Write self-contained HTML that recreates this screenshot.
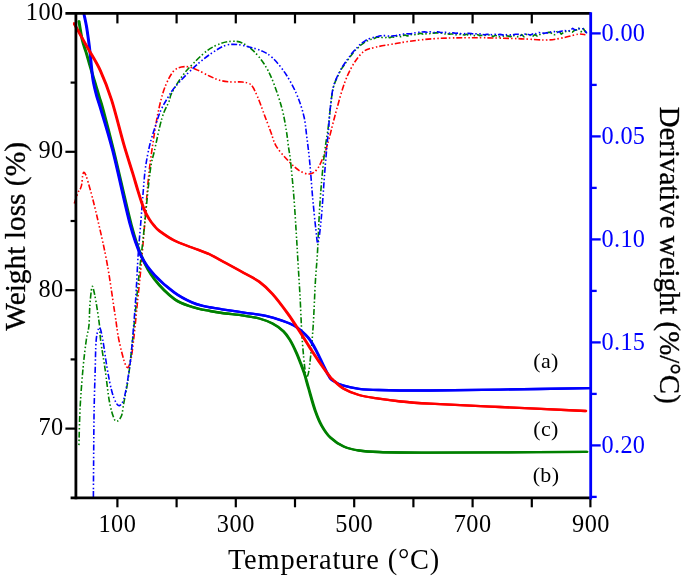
<!DOCTYPE html><html><head><meta charset="utf-8"><title>TGA</title><style>html,body{margin:0;padding:0;background:#fff}svg{display:block}</style></head><body><svg width="685" height="578" viewBox="0 0 685 578">
<rect width="685" height="578" fill="#fff"/>
<defs><clipPath id="c"><rect x="72.9" y="13.4" width="517.8" height="484.4"/></clipPath></defs>
<g fill="none" stroke-linejoin="round" clip-path="url(#c)">
<path d="M74.3 203.5C74.9 201.8 76.8 195.5 77.8 193.0C78.8 190.5 79.8 190.0 80.5 188.5C81.2 187.0 81.5 186.1 81.8 184.0C82.1 181.9 82.3 177.9 82.6 176.0C82.9 174.1 83.3 172.6 83.8 172.3C84.2 172.0 84.8 173.0 85.3 174.0C85.8 175.0 85.8 174.5 87.0 178.5C88.2 182.5 90.6 190.6 92.5 198.0C94.4 205.4 96.0 212.0 98.5 223.0C101.0 234.0 104.5 248.8 107.2 264.0C110.0 279.2 113.0 301.8 115.0 314.5C117.0 327.2 117.1 331.4 118.9 340.0C120.7 348.6 124.1 362.3 126.0 366.0C127.9 369.7 129.0 366.3 130.3 362.0C131.6 357.7 132.3 350.8 133.6 340.0C134.9 329.2 136.7 309.7 138.0 297.0C139.3 284.3 140.2 276.0 141.3 264.0C142.4 252.0 143.3 240.2 144.6 225.0C145.9 209.8 147.3 187.8 149.0 172.5C150.7 157.2 152.8 144.1 154.5 133.0C156.2 121.9 157.7 113.8 159.5 106.0C161.3 98.2 163.0 91.9 165.4 86.0C167.8 80.1 170.9 73.7 174.2 70.5C177.5 67.3 181.4 66.8 185.1 66.6C188.8 66.4 192.1 67.8 196.1 69.4C200.1 71.0 205.3 74.2 209.3 76.0C213.3 77.8 216.6 79.4 220.3 80.4C224.0 81.4 227.7 81.7 231.3 82.0C235.0 82.3 238.9 81.5 242.2 82.0C245.5 82.5 248.4 82.3 251.0 84.8C253.6 87.3 255.4 92.0 257.6 96.9C259.8 101.8 262.0 108.6 264.2 114.4C266.4 120.2 268.8 126.7 270.8 132.0C272.8 137.3 273.4 141.5 276.3 146.3C279.2 151.1 284.5 156.8 288.3 160.8C292.1 164.9 295.8 168.4 299.3 170.6C302.8 172.8 306.3 174.2 309.2 174.0C312.1 173.8 314.5 172.4 316.9 169.5C319.3 166.6 321.7 160.8 323.5 156.4C325.3 152.0 326.0 149.6 327.9 143.0C329.8 136.4 332.1 126.2 334.7 116.7C337.3 107.2 340.6 94.5 343.5 86.0C346.4 77.5 349.0 71.7 352.3 66.0C355.6 60.3 359.6 54.9 363.3 51.8C367.0 48.7 369.6 48.8 374.3 47.5C379.1 46.2 385.9 45.2 391.8 44.2C397.8 43.2 402.8 42.2 410.0 41.3C417.2 40.4 424.5 39.2 435.0 38.6C445.5 38.0 459.4 37.7 473.0 37.7C486.6 37.7 504.6 38.2 516.8 38.6C529.0 39.0 538.2 40.1 546.0 40.0C553.8 39.9 558.2 38.7 563.5 37.7C568.8 36.7 574.4 34.7 578.0 34.2C581.6 33.7 584.2 34.7 585.4 34.8" stroke="#f00" stroke-width="1.6" stroke-dasharray="6 2 1.5 2.5 1.5 2"/>
<path d="M78.9 446.0C79.1 439.3 79.5 418.9 80.2 406.0C80.9 393.1 82.0 379.6 83.0 368.6C84.0 357.6 85.3 347.1 86.3 340.0C87.3 332.9 88.3 331.8 88.9 326.0C89.5 320.2 89.4 311.4 89.9 305.0C90.4 298.6 91.2 290.1 91.8 287.5C92.4 284.9 92.8 286.8 93.5 289.5C94.2 292.2 95.3 297.5 96.3 303.5C97.3 309.5 98.8 319.4 99.5 325.5C100.2 331.6 99.7 332.8 100.6 340.0C101.5 347.2 103.5 358.4 105.0 368.6C106.5 378.9 107.9 393.3 109.4 401.5C110.9 409.7 112.5 414.7 113.8 418.0C115.1 421.3 115.8 421.7 117.1 421.3C118.4 420.9 120.4 418.7 121.5 415.8C122.6 412.9 122.6 409.8 123.7 403.7C124.8 397.6 126.8 388.3 128.1 379.5C129.4 370.7 130.5 359.2 131.4 351.0C132.3 342.8 132.3 342.7 133.6 330.0C134.9 317.3 137.3 290.8 139.0 275.0C140.7 259.2 141.7 252.1 143.5 235.0C145.3 217.9 148.2 186.6 150.0 172.5C151.8 158.4 152.5 159.6 154.5 150.5C156.5 141.4 159.6 126.1 162.0 118.0C164.4 109.9 167.1 106.2 168.8 102.0C170.5 97.8 169.6 97.0 172.0 92.5C174.4 88.0 179.3 80.0 183.0 75.0C186.7 70.0 190.0 66.8 194.0 62.8C198.0 58.8 202.7 53.9 207.1 50.7C211.5 47.5 216.1 45.3 220.3 43.7C224.5 42.1 228.8 41.4 232.4 41.3C236.1 41.2 238.7 41.4 242.2 43.0C245.7 44.6 249.5 47.2 253.2 50.7C256.9 54.2 260.9 58.9 264.2 64.0C267.5 69.1 270.1 74.2 273.0 81.5C275.9 88.8 279.6 99.8 281.8 107.8C284.0 115.8 285.1 123.4 286.2 129.8C287.3 136.2 287.7 141.1 288.4 146.3C289.1 151.5 289.6 152.5 290.5 160.8C291.4 169.1 292.9 184.6 293.8 196.0C294.7 207.4 295.4 219.3 296.0 229.0C296.6 238.7 296.9 243.2 297.5 254.0C298.1 264.8 299.1 280.0 299.9 294.0C300.7 308.0 301.2 324.7 302.1 337.9C303.0 351.1 304.5 366.6 305.4 373.0C306.3 379.4 306.8 377.7 307.5 376.2C308.2 374.7 308.9 372.2 309.8 364.0C310.7 355.8 312.2 340.5 313.1 327.0C314.0 313.5 314.6 295.5 315.3 283.0C316.0 270.5 316.9 262.8 317.5 252.0C318.1 241.2 318.5 229.2 319.1 218.0C319.7 206.8 320.4 196.0 321.3 185.0C322.2 174.0 323.5 161.2 324.6 152.0C325.7 142.8 326.9 137.2 327.9 130.0C328.8 122.8 329.4 115.8 330.3 108.5C331.2 101.2 331.8 93.1 333.6 86.5C335.4 79.9 340.0 71.9 341.3 69.0L341.3 69.1L343.5 66.0L345.7 62.8L347.9 59.8L350.1 56.7L352.3 54.1L354.5 51.0L356.7 48.8L358.9 47.0L361.1 44.8L363.3 43.4L365.5 41.4L367.7 40.7L369.9 39.5L372.1 39.1L374.3 38.5L376.5 37.3L378.7 37.2L380.9 37.2L383.1 38.0L385.3 37.8L387.5 37.0L389.7 37.8L391.9 36.8L394.1 37.2L396.3 36.3L398.5 35.8L400.7 36.7L402.9 35.4L405.1 35.1L407.3 35.9L409.5 35.5L411.7 34.4L413.9 35.1L416.1 34.2L418.3 34.1L420.5 33.2L422.7 34.1L424.9 33.6L427.1 33.9L429.3 33.8L431.5 32.9L433.7 33.1L435.9 32.9L438.1 32.9L440.3 32.9L442.5 33.4L444.7 34.0L446.9 33.2L449.1 34.3L451.3 34.0L453.5 34.0L455.7 34.8L457.9 34.5L460.1 34.3L462.3 34.6L464.5 35.0L466.7 34.2L468.9 35.6L471.1 34.4L473.3 35.5L475.5 35.7L477.7 34.6L479.9 35.8L482.1 35.3L484.3 35.7L486.5 34.8L488.7 34.9L490.9 35.2L493.1 36.6L495.3 35.3L497.5 36.4L499.7 36.8L501.9 36.9L504.1 35.7L506.3 35.7L508.5 36.1L510.7 36.6L512.9 35.1L515.1 36.5L517.3 36.6L519.5 36.7L521.7 34.5L523.9 36.8L526.1 34.4L528.3 34.9L530.5 35.5L532.7 36.3L534.9 34.5L537.1 36.0L539.3 34.7L541.5 33.8L543.7 33.6L545.9 33.0L548.1 32.4L550.3 32.4L552.5 34.0L554.7 34.8L556.9 31.7L559.1 31.0L561.3 34.2L563.5 32.3L565.7 31.5L567.9 30.5L570.1 31.5L572.3 32.1L574.5 30.3L576.7 29.9L578.9 28.2L581.1 31.8L583.3 28.5L585.5 32.2L586.9 33.4" stroke="#008000" stroke-width="1.6" stroke-dasharray="6 2 1.5 2.5 1.5 2" stroke-dashoffset="7"/>
<path d="M93.4 497.0C93.4 491.7 93.5 478.3 93.6 465.0C93.7 451.7 93.8 432.3 94.0 417.0C94.2 401.7 94.7 385.8 95.1 373.0C95.5 360.2 95.5 347.6 96.2 340.0C96.9 332.4 98.4 327.7 99.5 327.7C100.6 327.7 101.5 333.2 102.8 340.0C104.1 346.8 105.7 360.2 107.2 368.6C108.7 377.0 110.1 384.8 111.6 390.5C113.1 396.2 114.7 400.1 116.0 402.6C117.3 405.1 118.4 406.1 119.7 405.5C121.0 404.9 122.5 402.9 123.7 399.3C124.9 395.7 125.9 390.2 127.0 384.0C128.1 377.8 129.4 369.3 130.3 362.0C131.2 354.7 131.6 350.8 132.5 340.0C133.4 329.2 134.9 310.8 135.8 297.0C136.7 283.2 137.2 270.1 138.0 257.4C138.8 244.7 140.0 232.6 140.9 221.0C141.8 209.4 142.7 197.2 143.5 188.0C144.3 178.8 144.6 173.3 145.7 166.0C146.8 158.7 148.2 151.3 150.0 144.0C151.8 136.7 154.9 127.7 156.7 122.0C158.5 116.3 159.3 113.8 161.0 110.0C162.7 106.2 164.8 102.7 167.0 99.0C169.2 95.3 170.8 92.2 174.2 88.0C177.6 83.8 182.9 78.2 187.3 73.8C191.7 69.4 196.1 65.4 200.5 61.7C204.9 58.0 209.5 54.5 213.7 51.8C217.9 49.1 221.8 46.5 225.8 45.3C229.8 44.1 233.7 44.2 237.9 44.6C242.1 45.0 247.0 46.4 251.0 47.5C255.0 48.6 258.3 49.2 262.0 51.0C265.7 52.8 269.1 54.4 273.2 58.4C277.3 62.4 282.4 68.8 286.4 75.0C290.4 81.2 294.4 88.8 297.3 95.8C300.2 102.8 302.4 109.8 304.0 116.7C305.6 123.6 305.8 129.3 306.8 137.0C307.8 144.7 308.9 153.2 309.8 163.0C310.8 172.8 311.5 185.0 312.5 196.0C313.5 207.0 314.9 221.2 315.8 229.0C316.7 236.8 317.1 244.8 318.0 243.0C318.9 241.2 320.2 229.5 321.3 218.0C322.4 206.5 323.7 185.7 324.6 174.0C325.5 162.3 326.2 154.9 326.8 147.6C327.4 140.3 327.9 136.6 328.5 130.0C329.1 123.4 329.4 115.2 330.3 107.9C331.2 100.6 331.8 92.5 333.6 85.9C335.4 79.3 340.0 71.2 341.3 68.3L341.3 68.3L343.9 64.5L346.5 60.7L349.1 57.2L351.7 53.6L354.3 50.6L356.9 47.9L359.5 44.9L362.1 42.9L364.7 41.2L367.3 39.4L369.9 38.4L372.5 37.7L375.1 36.8L377.7 36.5L380.3 35.7L382.9 35.7L385.5 35.6L388.1 36.0L390.7 36.3L393.3 35.7L395.9 35.6L398.5 34.9L401.1 34.9L403.7 34.0L406.3 33.8L408.9 33.9L411.5 33.6L414.1 33.1L416.7 32.4L419.3 32.3L421.9 32.0L424.5 31.9L427.1 32.3L429.7 31.7L432.3 32.4L434.9 32.5L437.5 31.9L440.1 32.3L442.7 32.6L445.3 32.3L447.9 32.8L450.5 33.4L453.1 32.8L455.7 33.4L458.3 33.1L460.9 33.6L463.5 34.0L466.1 33.4L468.7 33.4L471.3 33.5L473.9 34.1L476.5 33.7L479.1 33.8L481.7 34.3L484.3 34.8L486.9 34.4L489.5 34.4L492.1 34.8L494.7 34.2L497.3 34.8L499.9 34.4L502.5 34.9L505.1 35.4L507.7 34.2L510.3 34.9L512.9 34.9L515.5 34.2L518.1 34.3L520.7 35.3L523.3 35.3L525.9 33.6L528.5 34.5L531.1 34.8L533.7 33.3L536.3 33.8L538.9 32.5L541.5 32.9L544.1 33.3L546.7 32.9L549.3 33.0L551.9 31.3L554.5 31.6L557.1 32.5L559.7 31.6L562.3 31.0L564.9 30.5L567.5 31.6L570.1 30.2L572.7 28.4L575.3 30.1L577.9 28.6L580.5 28.8L583.1 28.7L585.7 31.5L586.9 33.4" stroke="#00f" stroke-width="1.6" stroke-dasharray="6 2 1.5 2.5 1.5 2"/>
<g stroke="#008000" stroke-width="2.3" stroke-linecap="round"><path d="M79.0 21.4C79.5 24.5 81.1 34.9 82.3 40.0C83.5 45.1 84.8 48.1 86.0 52.0C87.2 55.9 88.2 59.7 89.3 63.5C90.4 67.3 91.6 71.2 92.7 75.0C93.8 78.8 94.9 82.3 96.0 86.0C97.1 89.7 98.1 93.0 99.3 97.0C100.5 101.0 100.8 101.1 103.2 110.0C105.6 118.9 108.9 131.3 113.6 150.5C118.3 169.7 126.7 207.4 131.3 225.0C136.0 242.6 137.6 247.2 141.5 256.3C145.4 265.4 149.0 272.2 154.5 279.3C160.0 286.4 168.1 294.4 174.3 299.0C180.5 303.6 186.0 304.8 191.9 306.8C197.8 308.8 205.0 310.0 210.0 311.0C215.0 312.0 216.3 312.2 222.0 313.0C227.7 313.8 237.7 314.8 243.9 315.7C250.1 316.6 254.5 317.2 259.3 318.5C264.1 319.8 268.5 321.5 272.5 323.6C276.5 325.7 280.6 328.6 283.5 331.3C286.4 334.0 287.8 336.4 290.0 340.0C292.2 343.6 294.8 349.2 296.6 353.2C298.4 357.2 299.7 360.9 301.0 364.2C302.3 367.5 302.9 369.0 304.2 373.0C305.5 377.0 306.8 382.1 308.6 388.3C310.4 394.5 312.9 404.1 315.1 410.3C317.3 416.5 319.1 421.1 321.7 425.7C324.3 430.3 326.8 434.2 330.5 437.7C334.2 441.2 338.9 444.4 343.7 446.5C348.4 448.6 353.1 449.6 359.0 450.5C364.9 451.4 367.0 451.6 378.8 452.0C390.6 452.4 409.8 452.6 430.0 452.7C450.2 452.8 473.8 452.5 500.0 452.4C526.2 452.2 572.5 451.9 587.0 451.8" transform="translate(-0.35 0)"/><path d="M79.0 21.4C79.5 24.5 81.1 34.9 82.3 40.0C83.5 45.1 84.8 48.1 86.0 52.0C87.2 55.9 88.2 59.7 89.3 63.5C90.4 67.3 91.6 71.2 92.7 75.0C93.8 78.8 94.9 82.3 96.0 86.0C97.1 89.7 98.1 93.0 99.3 97.0C100.5 101.0 100.8 101.1 103.2 110.0C105.6 118.9 108.9 131.3 113.6 150.5C118.3 169.7 126.7 207.4 131.3 225.0C136.0 242.6 137.6 247.2 141.5 256.3C145.4 265.4 149.0 272.2 154.5 279.3C160.0 286.4 168.1 294.4 174.3 299.0C180.5 303.6 186.0 304.8 191.9 306.8C197.8 308.8 205.0 310.0 210.0 311.0C215.0 312.0 216.3 312.2 222.0 313.0C227.7 313.8 237.7 314.8 243.9 315.7C250.1 316.6 254.5 317.2 259.3 318.5C264.1 319.8 268.5 321.5 272.5 323.6C276.5 325.7 280.6 328.6 283.5 331.3C286.4 334.0 287.8 336.4 290.0 340.0C292.2 343.6 294.8 349.2 296.6 353.2C298.4 357.2 299.7 360.9 301.0 364.2C302.3 367.5 302.9 369.0 304.2 373.0C305.5 377.0 306.8 382.1 308.6 388.3C310.4 394.5 312.9 404.1 315.1 410.3C317.3 416.5 319.1 421.1 321.7 425.7C324.3 430.3 326.8 434.2 330.5 437.7C334.2 441.2 338.9 444.4 343.7 446.5C348.4 448.6 353.1 449.6 359.0 450.5C364.9 451.4 367.0 451.6 378.8 452.0C390.6 452.4 409.8 452.6 430.0 452.7C450.2 452.8 473.8 452.5 500.0 452.4C526.2 452.2 572.5 451.9 587.0 451.8" transform="translate(0.35 0)"/></g>
<g stroke="#00f" stroke-width="2.3" stroke-linecap="round"><path d="M84.1 14.6C84.5 16.7 85.9 22.8 86.6 27.0C87.3 31.2 87.9 35.8 88.5 40.0C89.1 44.2 89.5 47.7 90.0 52.0C90.5 56.3 90.9 61.2 91.4 66.0C91.9 70.8 92.3 76.0 93.2 81.0C94.1 86.0 95.5 91.5 96.6 95.7C97.7 99.9 97.1 96.9 99.8 106.0C102.5 115.1 107.6 130.7 112.7 150.5C117.8 170.3 125.5 207.4 130.3 225.0C135.1 242.6 137.3 248.0 141.3 256.3C145.3 264.6 149.0 269.0 154.5 275.0C160.0 281.0 168.1 287.9 174.3 292.5C180.5 297.1 186.8 300.1 191.9 302.4C197.0 304.7 200.0 305.2 205.0 306.4C210.0 307.5 215.5 308.3 222.0 309.3C228.5 310.3 236.6 311.5 243.9 312.6C251.2 313.7 259.7 314.6 265.9 315.9C272.1 317.2 276.6 318.6 281.3 320.3C286.1 322.0 290.4 323.4 294.4 325.8C298.4 328.2 302.6 332.0 305.4 334.6C308.2 337.2 309.1 338.7 311.0 341.5C312.9 344.3 314.7 347.6 316.7 351.5C318.7 355.4 321.2 360.9 323.2 365.0C325.2 369.1 327.2 373.4 328.8 376.0C330.4 378.6 330.2 379.0 332.7 380.6C335.2 382.2 339.3 384.3 343.7 385.7C348.1 387.1 353.1 388.1 359.0 388.8C364.9 389.5 367.0 389.7 378.8 390.0C390.6 390.3 409.8 390.6 430.0 390.5C450.2 390.4 473.3 390.0 500.0 389.6C526.7 389.2 575.0 388.4 590.0 388.2" transform="translate(-0.35 0)"/><path d="M84.1 14.6C84.5 16.7 85.9 22.8 86.6 27.0C87.3 31.2 87.9 35.8 88.5 40.0C89.1 44.2 89.5 47.7 90.0 52.0C90.5 56.3 90.9 61.2 91.4 66.0C91.9 70.8 92.3 76.0 93.2 81.0C94.1 86.0 95.5 91.5 96.6 95.7C97.7 99.9 97.1 96.9 99.8 106.0C102.5 115.1 107.6 130.7 112.7 150.5C117.8 170.3 125.5 207.4 130.3 225.0C135.1 242.6 137.3 248.0 141.3 256.3C145.3 264.6 149.0 269.0 154.5 275.0C160.0 281.0 168.1 287.9 174.3 292.5C180.5 297.1 186.8 300.1 191.9 302.4C197.0 304.7 200.0 305.2 205.0 306.4C210.0 307.5 215.5 308.3 222.0 309.3C228.5 310.3 236.6 311.5 243.9 312.6C251.2 313.7 259.7 314.6 265.9 315.9C272.1 317.2 276.6 318.6 281.3 320.3C286.1 322.0 290.4 323.4 294.4 325.8C298.4 328.2 302.6 332.0 305.4 334.6C308.2 337.2 309.1 338.7 311.0 341.5C312.9 344.3 314.7 347.6 316.7 351.5C318.7 355.4 321.2 360.9 323.2 365.0C325.2 369.1 327.2 373.4 328.8 376.0C330.4 378.6 330.2 379.0 332.7 380.6C335.2 382.2 339.3 384.3 343.7 385.7C348.1 387.1 353.1 388.1 359.0 388.8C364.9 389.5 367.0 389.7 378.8 390.0C390.6 390.3 409.8 390.6 430.0 390.5C450.2 390.4 473.3 390.0 500.0 389.6C526.7 389.2 575.0 388.4 590.0 388.2" transform="translate(0.35 0)"/></g>
<g stroke="#f00" stroke-width="2.3" stroke-linecap="round"><path d="M74.0 23.4C75.2 25.5 78.7 31.8 81.0 36.0C83.3 40.2 84.8 42.8 88.0 48.5C91.2 54.2 96.4 61.9 100.3 70.5C104.2 79.1 107.7 87.8 111.6 100.0C115.5 112.2 120.2 131.9 123.7 144.0C127.2 156.1 130.1 164.7 132.5 172.5C134.9 180.3 136.4 185.8 138.0 191.0C139.6 196.2 140.9 200.4 142.2 204.0C143.4 207.6 144.3 209.9 145.5 212.5C146.7 215.1 148.1 217.3 149.5 219.5C150.9 221.7 152.3 223.6 154.0 225.5C155.7 227.4 156.1 228.5 159.5 231.0C162.9 233.5 168.9 237.8 174.3 240.5C179.7 243.2 186.0 245.2 191.9 247.5C197.8 249.8 205.0 252.2 210.0 254.5C215.0 256.8 216.3 257.9 222.0 261.0C227.7 264.1 237.7 269.5 243.9 273.0C250.1 276.5 254.5 278.3 259.3 281.8C264.1 285.3 267.7 288.7 272.5 294.0C277.3 299.3 283.5 307.7 287.9 313.7C292.3 319.7 295.1 324.6 298.8 330.2C302.5 335.8 306.1 341.8 309.8 347.5C313.5 353.2 317.5 359.4 320.8 364.2C324.1 369.0 327.6 373.8 329.6 376.3C331.6 378.9 330.4 377.4 332.7 379.5C335.0 381.6 339.3 386.2 343.7 388.8C348.1 391.4 353.1 393.4 359.0 395.0C364.9 396.6 371.8 397.5 378.8 398.6C385.8 399.7 392.3 400.6 400.8 401.5C409.3 402.4 413.5 402.8 430.0 403.7C446.5 404.6 474.0 405.8 500.0 407.0C526.0 408.2 571.5 410.3 585.8 411.0" transform="translate(-0.35 0)"/><path d="M74.0 23.4C75.2 25.5 78.7 31.8 81.0 36.0C83.3 40.2 84.8 42.8 88.0 48.5C91.2 54.2 96.4 61.9 100.3 70.5C104.2 79.1 107.7 87.8 111.6 100.0C115.5 112.2 120.2 131.9 123.7 144.0C127.2 156.1 130.1 164.7 132.5 172.5C134.9 180.3 136.4 185.8 138.0 191.0C139.6 196.2 140.9 200.4 142.2 204.0C143.4 207.6 144.3 209.9 145.5 212.5C146.7 215.1 148.1 217.3 149.5 219.5C150.9 221.7 152.3 223.6 154.0 225.5C155.7 227.4 156.1 228.5 159.5 231.0C162.9 233.5 168.9 237.8 174.3 240.5C179.7 243.2 186.0 245.2 191.9 247.5C197.8 249.8 205.0 252.2 210.0 254.5C215.0 256.8 216.3 257.9 222.0 261.0C227.7 264.1 237.7 269.5 243.9 273.0C250.1 276.5 254.5 278.3 259.3 281.8C264.1 285.3 267.7 288.7 272.5 294.0C277.3 299.3 283.5 307.7 287.9 313.7C292.3 319.7 295.1 324.6 298.8 330.2C302.5 335.8 306.1 341.8 309.8 347.5C313.5 353.2 317.5 359.4 320.8 364.2C324.1 369.0 327.6 373.8 329.6 376.3C331.6 378.9 330.4 377.4 332.7 379.5C335.0 381.6 339.3 386.2 343.7 388.8C348.1 391.4 353.1 393.4 359.0 395.0C364.9 396.6 371.8 397.5 378.8 398.6C385.8 399.7 392.3 400.6 400.8 401.5C409.3 402.4 413.5 402.8 430.0 403.7C446.5 404.6 474.0 405.8 500.0 407.0C526.0 408.2 571.5 410.3 585.8 411.0" transform="translate(0.35 0)"/></g>
</g>
<g stroke="#000" stroke-width="2.8" fill="none">
<path d="M75.9 12.0V499.2"/>
<path d="M65.4 13.4H590.7"/>
<path d="M70.6 497.8H590.7"/>
<path stroke-width="2.2" d="M70.6 82.6H75.9"/>
<path stroke-width="2.2" d="M65.4 151.8H75.9"/>
<path stroke-width="2.2" d="M70.6 221.0H75.9"/>
<path stroke-width="2.2" d="M65.4 290.2H75.9"/>
<path stroke-width="2.2" d="M70.6 359.4H75.9"/>
<path stroke-width="2.2" d="M65.4 428.6H75.9"/>
<path stroke-width="2.2" d="M117.4 13.4V23.4"/>
<path stroke-width="2.2" d="M117.4 497.8V507.3"/>
<path stroke-width="2.2" d="M176.6 13.4V23.4"/>
<path stroke-width="2.2" d="M176.6 497.8V507.3"/>
<path stroke-width="2.2" d="M235.8 13.4V23.4"/>
<path stroke-width="2.2" d="M235.8 497.8V507.3"/>
<path stroke-width="2.2" d="M295.0 13.4V23.4"/>
<path stroke-width="2.2" d="M295.0 497.8V507.3"/>
<path stroke-width="2.2" d="M354.2 13.4V23.4"/>
<path stroke-width="2.2" d="M354.2 497.8V507.3"/>
<path stroke-width="2.2" d="M413.4 13.4V23.4"/>
<path stroke-width="2.2" d="M413.4 497.8V507.3"/>
<path stroke-width="2.2" d="M472.6 13.4V23.4"/>
<path stroke-width="2.2" d="M472.6 497.8V507.3"/>
<path stroke-width="2.2" d="M531.8 13.4V23.4"/>
<path stroke-width="2.2" d="M531.8 497.8V507.3"/>
<path stroke-width="2.2" d="M590.4 497.8V507.3"/>
</g>
<g stroke="#00f" stroke-width="2.8" fill="none">
<path d="M590.7 12.2V499.4"/>
<path stroke-width="2.3" d="M590.7 33.4H600.7"/>
<path stroke-width="2.3" d="M590.7 84.9H596.7"/>
<path stroke-width="2.3" d="M590.7 136.4H600.7"/>
<path stroke-width="2.3" d="M590.7 187.9H596.7"/>
<path stroke-width="2.3" d="M590.7 239.4H600.7"/>
<path stroke-width="2.3" d="M590.7 290.9H596.7"/>
<path stroke-width="2.3" d="M590.7 342.4H600.7"/>
<path stroke-width="2.3" d="M590.7 393.9H596.7"/>
<path stroke-width="2.3" d="M590.7 445.4H600.7"/>
<path stroke-width="2.3" d="M590.7 496.9H596.7"/>
</g>
<g font-family="Liberation Serif, Times New Roman, serif" font-size="24.3" fill="#000">
<text transform="translate(63.5 20.0)" text-anchor="end" letter-spacing="0.40">100</text>
<text transform="translate(63.5 158.4)" text-anchor="end" letter-spacing="0.40">90</text>
<text transform="translate(63.5 296.8)" text-anchor="end" letter-spacing="0.40">80</text>
<text transform="translate(63.5 435.2)" text-anchor="end" letter-spacing="0.40">70</text>
<text transform="translate(117.4 531.6)" text-anchor="middle" letter-spacing="0.50">100</text>
<text transform="translate(235.8 531.6)" text-anchor="middle" letter-spacing="0.50">300</text>
<text transform="translate(354.2 531.6)" text-anchor="middle" letter-spacing="0.50">500</text>
<text transform="translate(472.6 531.6)" text-anchor="middle" letter-spacing="0.50">700</text>
<text transform="translate(591.0 531.6)" text-anchor="middle" letter-spacing="0.50">900</text>
</g>
<g font-family="Liberation Serif, Times New Roman, serif" font-size="24.3" fill="#00f">
<text transform="translate(601.6 41.1)" text-anchor="start" letter-spacing="0.30">0.00</text>
<text transform="translate(601.6 144.1)" text-anchor="start" letter-spacing="0.30">0.05</text>
<text transform="translate(601.6 247.1)" text-anchor="start" letter-spacing="0.30">0.10</text>
<text transform="translate(601.6 350.1)" text-anchor="start" letter-spacing="0.30">0.15</text>
<text transform="translate(601.6 453.1)" text-anchor="start" letter-spacing="0.30">0.20</text>
</g>
<g font-family="Liberation Serif, Times New Roman, serif" font-size="22" fill="#000">
<text transform="translate(546.0 368.4)" text-anchor="middle" letter-spacing="0.30">(a)</text>
<text transform="translate(546.0 436.0)" text-anchor="middle" letter-spacing="0.30">(c)</text>
<text transform="translate(546.0 482.0)" text-anchor="middle" letter-spacing="0.30">(b)</text>
</g>
<g font-family="Liberation Serif, Times New Roman, serif" fill="#000">
<g font-size="28.4"><text transform="translate(334.0 568.7)" text-anchor="middle" letter-spacing="0.80">Temperature (°C)</text></g>
<g font-size="29.4" stroke="#000" stroke-width="0.3"><text transform="translate(24.8 236.4) rotate(-90)" text-anchor="middle">Weight loss (%)</text></g>
<g font-size="28.9" stroke="#000" stroke-width="0.3"><text transform="translate(659.7 255.2) scale(1.055 1) rotate(90)" text-anchor="middle">Derivative weight (%/°C)</text></g>
</g>
</svg></body></html>
